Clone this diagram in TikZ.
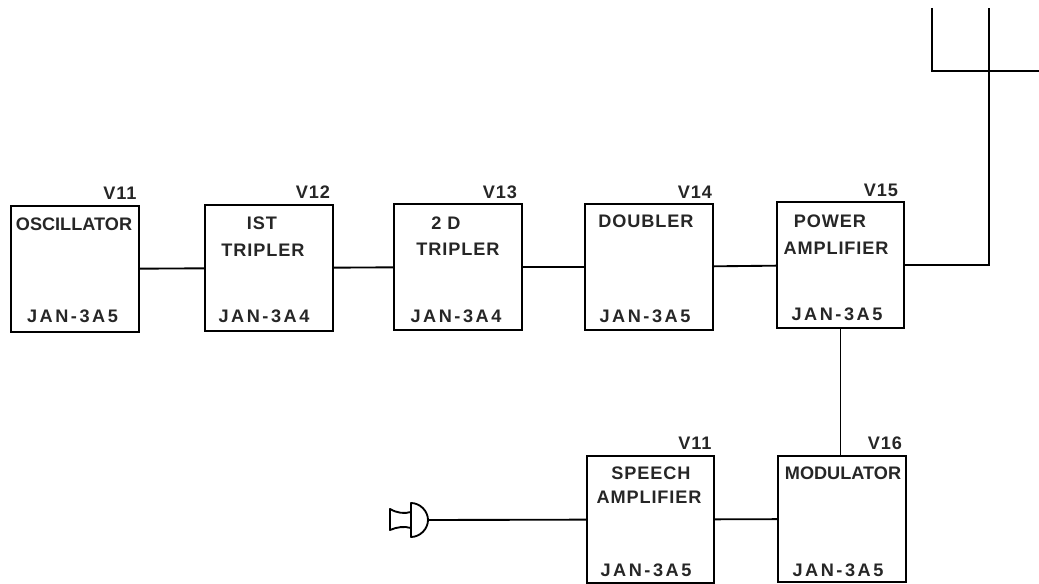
\documentclass[tikz,border=0pt]{standalone}
\usepackage{fontspec}
\setmainfont{Liberation Sans}
\newfontfamily\labelfont[LetterSpace=5]{Liberation Sans}
\newfontfamily\typefont[LetterSpace=14]{Liberation Sans}
\begin{document}
\begin{tikzpicture}[
    x=0.75pt, y=-0.75pt,
    font=\labelfont\bfseries\fontsize{13.6}{15}\selectfont,
    tube/.style={draw, line width=1.4pt, minimum width=95.5pt, minimum height=95pt, inner sep=0pt},
    wire/.style={draw, line width=1.4pt},
    caption/.style={inner sep=0pt, text=black!85},
    tight/.style={caption, font=\bfseries\fontsize{13.6}{15}\selectfont},
    tubetype/.style={caption, font=\typefont\bfseries\fontsize{13.6}{15}\selectfont}
]
\useasboundingbox (0,0) rectangle (1039,584);
\node[tube] (osc) at (75,269) {};
\node[tube] (tripa) at (269,268) {};
\node[tube] (tripb) at (458,267) {};
\node[tube] (doubler) at (649,267) {};
\node[tube] (pa) at (840.5,265) {};
\node[tube] (speech) at (650.5,519.5) {};
\node[tube] (mod) at (842,519) {};
% tube numbers
\node[caption] (vosc) at (120,193) {V11};
\node[caption] (vtripa) at (313,192) {V12};
\node[caption] (vtripb) at (500,192) {V13};
\node[caption] (vdoubler) at (695,192) {V14};
\node[caption] (vpa) at (881,190) {V15};
\node[caption] (vspeech) at (695,443) {V11};
\node[caption] (vmod) at (885,443) {V16};
% stage names
\node[tight] (nosc) at (74,224) {OSCILLATOR};
\node[caption] (ntripa) at (262,223) {IST};
\node[caption] (ntripaa) at (263,250) {TRIPLER};
\node[caption] (ntripb) at (446,223) {2 D};
\node[caption] (ntripbb) at (458,249) {TRIPLER};
\node[caption] (ndoubler) at (646,221) {DOUBLER};
\node[caption] (npa) at (830,221) {POWER};
\node[caption] (npaa) at (836,248) {AMPLIFIER};
\node[caption] (nspeech) at (651,473) {SPEECH};
\node[caption] (nspeechh) at (649,497) {AMPLIFIER};
\node[tight] (nmod) at (843,473) {MODULATOR};
% tube types
\node[tubetype] (tosc) at (72.5,316) {JAN-3A5};
\node[tubetype] (ttripa) at (264,316) {JAN-3A4};
\node[tubetype] (ttripb) at (456,316) {JAN-3A4};
\node[tubetype] (tdoubler) at (645,316) {JAN-3A5};
\node[tubetype] (tpa) at (837,314) {JAN-3A5};
\node[tubetype] (tspeech) at (646,570) {JAN-3A5};
\node[tubetype] (tmod) at (838,570) {JAN-3A5};
% antenna
\coordinate (feed) at (989,265);
\coordinate (mast) at (989,8);
\coordinate (cross) at (989,71);
\coordinate (stub) at (932,8);
\coordinate (corner) at (932,71);
\coordinate (arm) at (1039,71);
% microphone
\coordinate (mic) at (428,520);
\draw[wire, line join=round] (411,503) .. controls (420,503) and (428,511) .. (mic)
    .. controls (428,529) and (420,537) .. (411,537) -- cycle;
\draw[wire, line join=round] (411,512) .. controls (404,514) and (397,513) .. (390,509)
    -- (390,530) .. controls (397,527) and (404,526) .. (411,528);
\draw[wire] (osc) -- (tripa);
\draw[wire] (tripa) -- (tripb);
\draw[wire] (tripb) -- (doubler);
\draw[wire] (doubler) -- (pa);
\draw[wire] (pa) -- (feed) -- (mast);
\draw[wire] (stub) -- (corner) -- (arm);
\draw[wire] (pa.south) -- (pa.south |- mod.north);
\draw[wire] (speech) -- (mod);
\draw[wire] (mic) -- (speech);
\end{tikzpicture}
\end{document}
